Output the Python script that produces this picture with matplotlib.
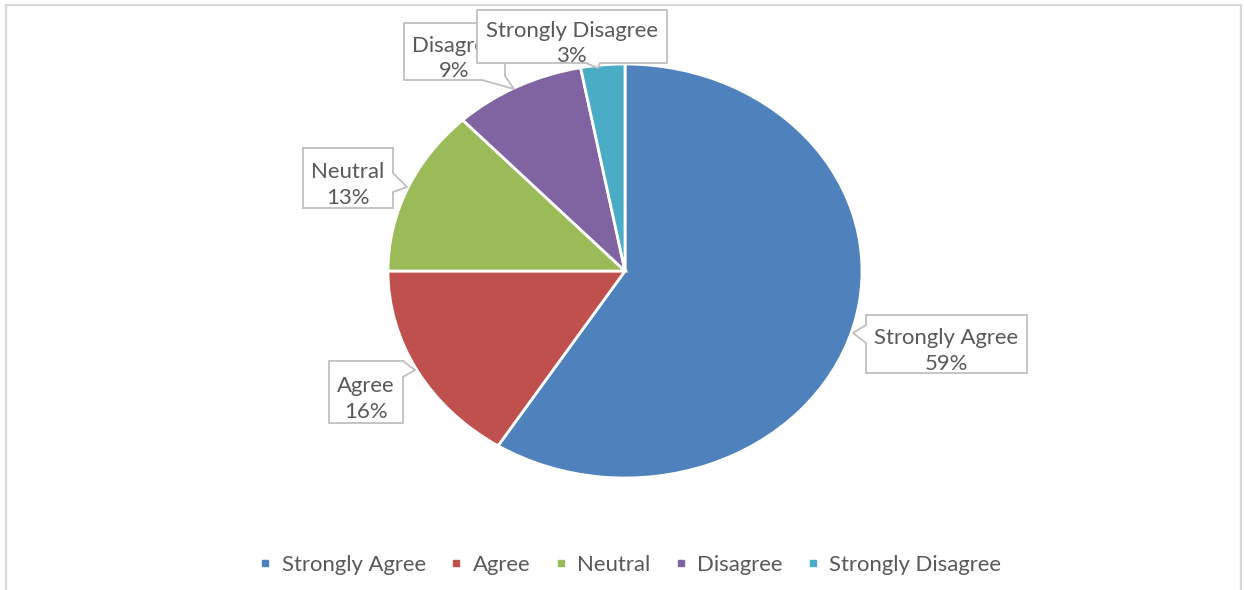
import matplotlib.pyplot as plt
from matplotlib.patches import Rectangle, Polygon
from matplotlib.lines import Line2D

# survey answers
categories = ["Strongly Agree", "Agree", "Neutral", "Disagree", "Strongly Disagree"]
shares = [59, 16, 13, 9, 3]
colors = ["#4F81BD", "#C0504D", "#9BBB59", "#8064A2", "#4BACC6"]

W, H = 1244, 590
TEXT = "#595959"
BORDER = "#BFBFBF"

plt.rcParams["font.family"] = ["Lato", "DejaVu Sans"]
plt.rcParams["font.size"] = 15.9

fig = plt.figure(figsize=(W / 100, H / 100), dpi=100)


def fx(x):
    return x / W


def fy(y):
    return 1 - y / H


# outer chart frame (bottom edge falls outside the picture)
fig.add_artist(Rectangle((fx(6), fy(620)), (1241 - 6) / W, 615 / H,
                         transform=fig.transFigure, facecolor="none",
                         edgecolor="#D9D9D9", lw=1.6, zorder=0.5))

# pie is stretched: centre (625, 271), radii 237 x 207 px
ax = fig.add_axes([fx(388), fy(478), 474 / W, 414 / H])
ax.pie(shares, colors=colors, startangle=90, counterclock=False,
       wedgeprops=dict(edgecolor="white", linewidth=2))
ax.set_aspect("auto")
ax.set_xlim(-1, 1)
ax.set_ylim(-1, 1)
ax.axis("off")

# callout boxes (pixel layout): box (x0, y0, x1, y1), pointer (base1, tip, base2)
callouts = {
    "Strongly Agree": ((866, 315, 1027, 373), [(866, 325), (853, 333), (866, 343)]),
    "Agree": ((329, 361, 403, 423), [(403, 361), (415, 370), (403, 377)]),
    "Neutral": ((303, 148, 393, 208), [(393, 173), (407, 187), (393, 192)]),
    "Disagree": ((404, 23, 505, 80), [(482, 80), (514, 89), (505, 76)]),
    "Strongly Disagree": ((477, 10, 667, 63), [(586, 63), (598, 68), (600, 63)]),
}


def callout(box, tail, label, z):
    x0, y0, x1, y1 = box
    fig.add_artist(Rectangle((fx(x0), fy(y1)), (x1 - x0) / W, (y1 - y0) / H,
                             transform=fig.transFigure, facecolor="white",
                             edgecolor=BORDER, lw=1.3, zorder=z))
    cx, cy = (x0 + x1) / 2, (y0 + y1) / 2
    b1, tip, b2 = tail

    def inward(p):
        dx, dy = cx - p[0], cy - p[1]
        n = (dx ** 2 + dy ** 2) ** 0.5
        return (p[0] + 2.5 * dx / n, p[1] + 2.5 * dy / n)

    pts = [inward(b1), b1, tip, b2, inward(b2)]
    fig.add_artist(Polygon([(fx(x), fy(y)) for x, y in pts], closed=True,
                           transform=fig.transFigure, facecolor="white",
                           edgecolor="none", zorder=z + 0.1))
    fig.add_artist(Line2D([fx(p[0]) for p in tail], [fy(p[1]) for p in tail],
                          transform=fig.transFigure, color=BORDER, lw=1.3,
                          zorder=z + 0.2))
    fig.text(fx(cx), fy(cy + 7), label, ha="center", va="center",
             color=TEXT, linespacing=1.32, zorder=z + 0.3)


for i, (name, share) in enumerate(zip(categories, shares)):
    box, tail = callouts[name]
    callout(box, tail, f"{name}\n{share}%", 2 + i)

# legend
handles = [Line2D([], [], marker="s", ls="none", color=c, markersize=5)
           for c in colors]
fig.legend(handles, categories, loc="center", bbox_to_anchor=(fx(630), fy(565)),
           ncol=5, frameon=False, handlelength=0.6, handletextpad=0.45,
           columnspacing=1.07, labelcolor=TEXT)

fig.savefig("out.png", dpi=100)
